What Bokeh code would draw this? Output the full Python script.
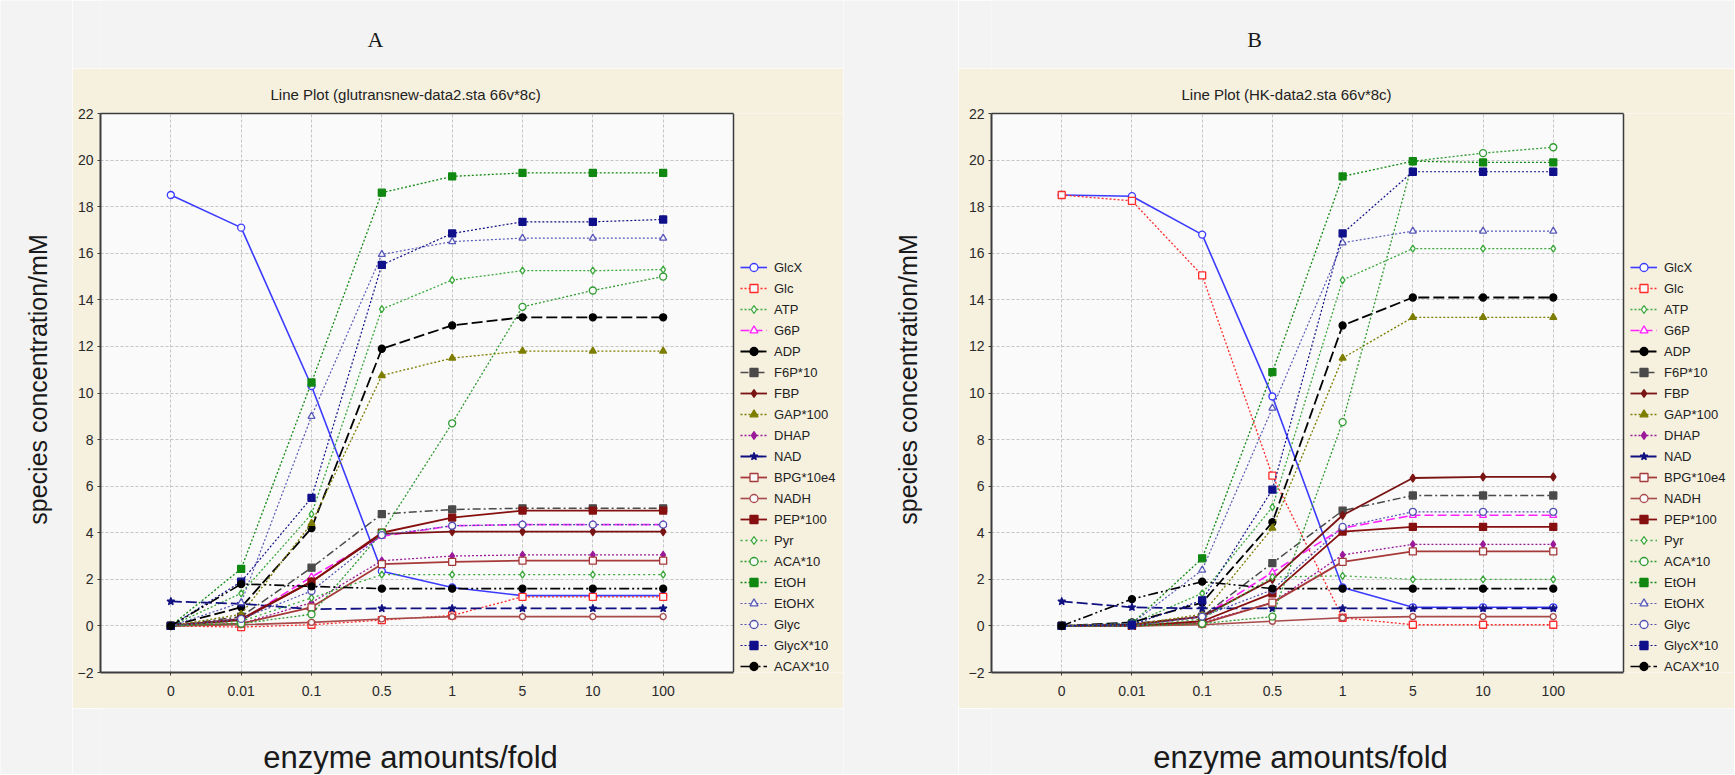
from bokeh.plotting import figure
from bokeh.models import Range1d, FixedTicker, Legend, LegendItem, LinearAxis, BoxAnnotation, Span
from bokeh.layouts import row, column
from bokeh.core.properties import value
from bokeh.embed import file_html
from bokeh.resources import INLINE
import math

# ---------------- data ----------------
categories = ["0", "0.01", "0.1", "0.5", "1", "5", "10", "100"]
species = ["GlcX", "Glc", "ATP", "G6P", "ADP", "F6P*10", "FBP", "GAP*100", "DHAP", "NAD",
           "BPG*10e4", "NADH", "PEP*100", "Pyr", "ACA*10", "EtOH", "EtOHX", "Glyc", "GlycX*10", "ACAX*10"]

# Panel A: glutransnew-data2
A_GlcX = [18.5, 17.1, 10.3, 2.35, 1.65, 1.3, 1.3, 1.3]
A_Glc = [0.0, -0.05, 0.05, 0.25, 0.45, 1.25, 1.25, 1.25]
A_ATP = [0.0, 1.4, 4.8, 13.6, 14.85, 15.25, 15.25, 15.3]
A_G6P = [0.0, 0.25, 2.1, 3.85, 4.3, 4.35, 4.35, 4.35]
A_ADP = [0.0, 0.8, 4.2, 11.9, 12.9, 13.25, 13.25, 13.25]
A_F6P = [0.0, 0.4, 2.5, 4.8, 5.0, 5.05, 5.05, 5.05]
A_FBP = [0.0, 0.25, 1.9, 3.95, 4.05, 4.05, 4.05, 4.05]
A_GAP = [0.0, 0.5, 4.4, 10.75, 11.5, 11.8, 11.8, 11.8]
A_DHAP = [0.0, 0.1, 1.0, 2.8, 3.0, 3.05, 3.05, 3.05]
A_NAD = [1.05, 0.95, 0.72, 0.75, 0.75, 0.75, 0.75, 0.75]
A_BPG = [0.0, 0.1, 0.8, 2.65, 2.75, 2.8, 2.8, 2.8]
A_NADH = [0.0, 0.05, 0.15, 0.3, 0.4, 0.4, 0.4, 0.4]
A_PEP = [0.0, 0.3, 1.9, 4.0, 4.65, 4.95, 4.95, 4.95]
A_Pyr = [0.0, 0.2, 1.2, 2.2, 2.2, 2.2, 2.2, 2.2]
A_ACA = [0.0, 0.1, 0.5, 4.0, 8.7, 13.7, 14.4, 15.0]
A_EtOH = [0.0, 2.45, 10.45, 18.6, 19.3, 19.45, 19.45, 19.45]
A_EtOHX = [0.0, 1.0, 9.0, 15.95, 16.5, 16.65, 16.65, 16.65]
A_Glyc = [0.0, 0.3, 1.5, 3.9, 4.3, 4.35, 4.35, 4.35]
A_GlycX = [0.0, 1.9, 5.5, 15.5, 16.85, 17.35, 17.35, 17.45]
A_ACAX = [0.0, 1.8, 1.7, 1.6, 1.6, 1.6, 1.6, 1.6]

# Panel B: HK-data2
B_GlcX = [18.5, 18.45, 16.8, 9.85, 1.65, 0.8, 0.8, 0.8]
B_Glc = [18.5, 18.25, 15.05, 6.45, 0.35, 0.05, 0.05, 0.05]
B_ATP = [0.0, 0.1, 1.4, 5.1, 14.85, 16.2, 16.2, 16.2]
B_G6P = [0.0, 0.05, 0.4, 2.3, 4.2, 4.75, 4.75, 4.75]
B_ADP = [0.0, 0.15, 1.0, 4.45, 12.9, 14.1, 14.1, 14.1]
B_F6P = [0.0, 0.1, 0.4, 2.7, 4.95, 5.6, 5.6, 5.6]
B_FBP = [0.0, 0.05, 0.4, 2.0, 4.75, 6.35, 6.4, 6.4]
B_GAP = [0.0, 0.05, 0.5, 4.2, 11.5, 13.25, 13.25, 13.25]
B_DHAP = [0.0, 0.0, 0.15, 1.0, 3.05, 3.5, 3.5, 3.5]
B_NAD = [1.05, 0.8, 0.75, 0.75, 0.75, 0.75, 0.75, 0.75]
B_BPG = [0.0, 0.0, 0.1, 1.0, 2.75, 3.2, 3.2, 3.2]
B_NADH = [0.0, 0.0, 0.05, 0.2, 0.35, 0.4, 0.4, 0.4]
B_PEP = [0.0, 0.0, 0.2, 1.4, 4.05, 4.25, 4.25, 4.25]
B_Pyr = [0.0, 0.0, 0.3, 2.1, 2.15, 2.0, 2.0, 2.0]
B_ACA = [0.0, 0.0, 0.1, 0.4, 8.75, 19.95, 20.3, 20.55]
B_EtOH = [0.0, 0.1, 2.9, 10.9, 19.3, 19.95, 19.9, 19.9]
B_EtOHX = [0.0, 0.1, 2.4, 9.35, 16.45, 16.95, 16.95, 16.95]
B_Glyc = [0.0, 0.0, 0.4, 1.55, 4.25, 4.9, 4.9, 4.9]
B_GlycX = [0.0, 0.05, 1.1, 5.85, 16.85, 19.5, 19.5, 19.5]
B_ACAX = [0.0, 1.15, 1.9, 1.6, 1.6, 1.6, 1.6, 1.6]

y_ticks = [-2, 0, 2, 4, 6, 8, 10, 12, 14, 16, 18, 20, 22]

A_series = [A_GlcX, A_Glc, A_ATP, A_G6P, A_ADP, A_F6P, A_FBP, A_GAP, A_DHAP, A_NAD,
            A_BPG, A_NADH, A_PEP, A_Pyr, A_ACA, A_EtOH, A_EtOHX, A_Glyc, A_GlycX, A_ACAX]
B_series = [B_GlcX, B_Glc, B_ATP, B_G6P, B_ADP, B_F6P, B_FBP, B_GAP, B_DHAP, B_NAD,
            B_BPG, B_NADH, B_PEP, B_Pyr, B_ACA, B_EtOH, B_EtOHX, B_Glyc, B_GlycX, B_ACAX]

# ---------------- styles ----------------
GRAY = "#f3f3f3"
BEIGE = "#f6f0df"
PLOT_BG = "#fafafa"
AXIS_C = "#3c3c3c"
FONT = "Liberation Sans"

colors = ["#3b3bff", "#ff2a2a", "#3aa83a", "#ff22ff", "#000000", "#4a4a4a", "#7a1414", "#7d7d00",
          "#9a1a9a", "#101080", "#a63a3a", "#a84a4a", "#861010", "#3aa83a", "#2f9a2f", "#118811",
          "#5a5ab8", "#5050b0", "#10108a", "#000000"]
dashes = ["solid", "2 2", "2 2", "9 4", "11 4", "8 3 2 3", "solid", "2 2", "2 2", "11 4",
          "solid", "solid", "solid", "2 3", "2 2", "2 2", "2 2", "2 2", "2 2", "10 3 2 3 2 3"]
widths = [1.6, 1.3, 1.3, 1.6, 1.8, 1.5, 1.8, 1.3, 1.3, 1.8,
          1.8, 1.6, 1.8, 1.3, 1.3, 1.3, 1.2, 1.2, 1.2, 1.6]
markers = ["circle", "square", "diamond", "triangle", "circle", "square", "diamond", "triangle",
           "diamond", "star", "square", "circle", "square", "diamond", "circle", "square",
           "triangle", "circle", "square", "circle"]
filled = [False, False, False, False, True, True, True, True, True, True,
          False, False, True, False, False, True, False, False, True, True]
sizes = [7, 7, 7, 7, 7, 7, 8, 7, 7, 8, 7, 6, 7, 7, 7, 7, 7, 7, 7, 7]

# layout (page pixels; body has no margin)
LEFT_W, A_W, MID_W, B_W = 72, 771, 115, 776
TOP_H, MAIN_H, BOT_H = 68, 640, 66
FULL_H = TOP_H + MAIN_H + BOT_H
A_BL, B_BL = 28, 33
A_DATA_W, B_DATA_W = 633, 632          # pixel width of the data area (x from -1 to 8)
A_F0 = LEFT_W + A_BL
A_F1 = LEFT_W + A_W
B_F0 = LEFT_W + A_W + MID_W + B_BL
B_F1 = LEFT_W + A_W + MID_W + B_W


def main_panel(title, series, width, left, data_w, legend_x, title_offset):
    frame_w = width - left
    x_end = -1 + 9.0 * frame_w / data_w
    p = figure(width=width, height=MAIN_H, x_range=Range1d(-1, x_end), y_range=Range1d(-2, 22),
               output_backend="svg", toolbar_location=None, title=title,
               min_border_left=left, min_border_right=0, min_border_top=45, min_border_bottom=36,
               border_fill_color=BEIGE, background_fill_color=PLOT_BG, outline_line_color=None)
    p.title.align = "left"
    p.title.offset = title_offset
    p.title.text_font = FONT
    p.title.text_font_size = "15px"
    p.title.text_font_style = "normal"
    p.title.text_color = "#222222"
    p.title.standoff = 22

    xt = FixedTicker(ticks=list(range(len(categories))), minor_ticks=[])
    yt = FixedTicker(ticks=y_ticks, minor_ticks=[])
    p.xaxis.ticker = xt
    p.yaxis.ticker = yt
    p.xgrid.ticker = xt
    p.ygrid.ticker = yt
    p.xaxis.bounds = (-1, 8)
    p.xaxis.major_label_overrides = {i: c for i, c in enumerate(categories)}
    for ax in (p.xaxis, p.yaxis):
        ax.axis_line_color = AXIS_C
        ax.axis_line_width = 2
        ax.major_tick_line_color = AXIS_C
        ax.major_tick_in = 0
        ax.major_tick_out = 3
        ax.minor_tick_line_color = None
        ax.major_label_text_font = FONT
        ax.major_label_text_font_size = "14px"
        ax.major_label_text_color = "#2a2a2a"
    p.yaxis.major_label_standoff = 4
    p.xaxis.major_label_standoff = 10
    for g in (p.xgrid, p.ygrid):
        g.grid_line_color = "#c4c4c4"
        g.grid_line_dash = "3 2"
        g.grid_line_width = 1

    # top edge of the plot box
    top_axis = LinearAxis(ticker=FixedTicker(ticks=[], minor_ticks=[]), bounds=(-1, 8),
                          axis_line_color=AXIS_C, axis_line_width=1.5,
                          major_tick_line_color=None, minor_tick_line_color=None,
                          major_label_text_font_size="0px")
    p.add_layout(top_axis, "above")
    # legend area (outside the plot box) keeps the panel colour
    p.add_layout(BoxAnnotation(left=8, fill_color=BEIGE, fill_alpha=1.0, line_color=None,
                               level="underlay"))
    p.add_layout(Span(location=8, dimension="height", line_color=AXIS_C, line_width=1.5))

    xs = list(range(len(categories)))
    items = []
    for i, name in enumerate(species):
        ln = p.line(xs, series[i], line_color=colors[i], line_width=widths[i], line_dash=dashes[i])
        sc = p.scatter(xs, series[i], marker=markers[i], size=sizes[i], line_color=colors[i],
                       line_width=1.3, fill_color=colors[i] if filled[i] else PLOT_BG)
        items.append(LegendItem(label=name, renderers=[ln, sc]))
    leg = Legend(items=items, location=(legend_x, -4), orientation="vertical",
                 border_line_color=None, background_fill_alpha=0, padding=0, margin=0, spacing=1,
                 glyph_width=27, glyph_height=20, label_height=20, label_standoff=7,
                 label_text_font=FONT, label_text_font_size="13px", label_text_color="#222222")
    p.add_layout(leg)
    return p


def strip(w, h, x0, x1, texts=()):
    # x range given in page pixels of the frame this strip is aligned to
    s = figure(width=w, height=h, x_range=Range1d(x0, x1), y_range=Range1d(0, h),
               output_backend="svg", toolbar_location=None, x_axis_type=None, y_axis_type=None,
               min_border_left=0, min_border_right=0, min_border_top=0, min_border_bottom=0,
               background_fill_color=GRAY, border_fill_color=GRAY,
               outline_line_color=None, title=None)
    for (tx, ty, txt, font, fsize, ang) in texts:
        s.text(x=[tx], y=[ty], text=[txt], text_font=value(font), text_font_size=fsize,
               text_align="center", text_baseline="middle", angle=ang, text_color="#1a1a1a")
    return s


pA = main_panel("Line Plot (glutransnew-data2.sta 66v*8c)", A_series, A_W, A_BL, A_DATA_W, 640, 170)
pB = main_panel("Line Plot (HK-data2.sta 66v*8c)", B_series, B_W, B_BL, B_DATA_W, 639, 190)

left_A = strip(LEFT_W, FULL_H, 0, LEFT_W,
               [(37, FULL_H - 379, "species concentration/mM", FONT, "25px", math.pi / 2)])
top_A = strip(A_W, TOP_H, A_F0, A_F1, [(375, TOP_H - 39, "A", "Liberation Serif", "22px", 0)])
bot_A = strip(A_W, BOT_H, A_F0, A_F1, [(410, BOT_H - 49, "enzyme amounts/fold", FONT, "31px", 0)])
mid = strip(MID_W, FULL_H, LEFT_W + A_W, LEFT_W + A_W + MID_W,
            [(907, FULL_H - 379, "species concentration/mM", FONT, "25px", math.pi / 2)])
top_B = strip(B_W, TOP_H, B_F0, B_F1, [(1254, TOP_H - 39, "B", "Liberation Serif", "22px", 0)])
bot_B = strip(B_W, BOT_H, B_F0, B_F1, [(1300, BOT_H - 49, "enzyme amounts/fold", FONT, "31px", 0)])

layout = row(left_A, column(top_A, pA, bot_A, spacing=0), mid,
             column(top_B, pB, bot_B, spacing=0), spacing=0)

html = file_html(layout, INLINE, title="Line plots")
html = html.replace("<body>", '<body style="background-color:%s;">' % GRAY, 1)
open("out.html", "w").write(html)
